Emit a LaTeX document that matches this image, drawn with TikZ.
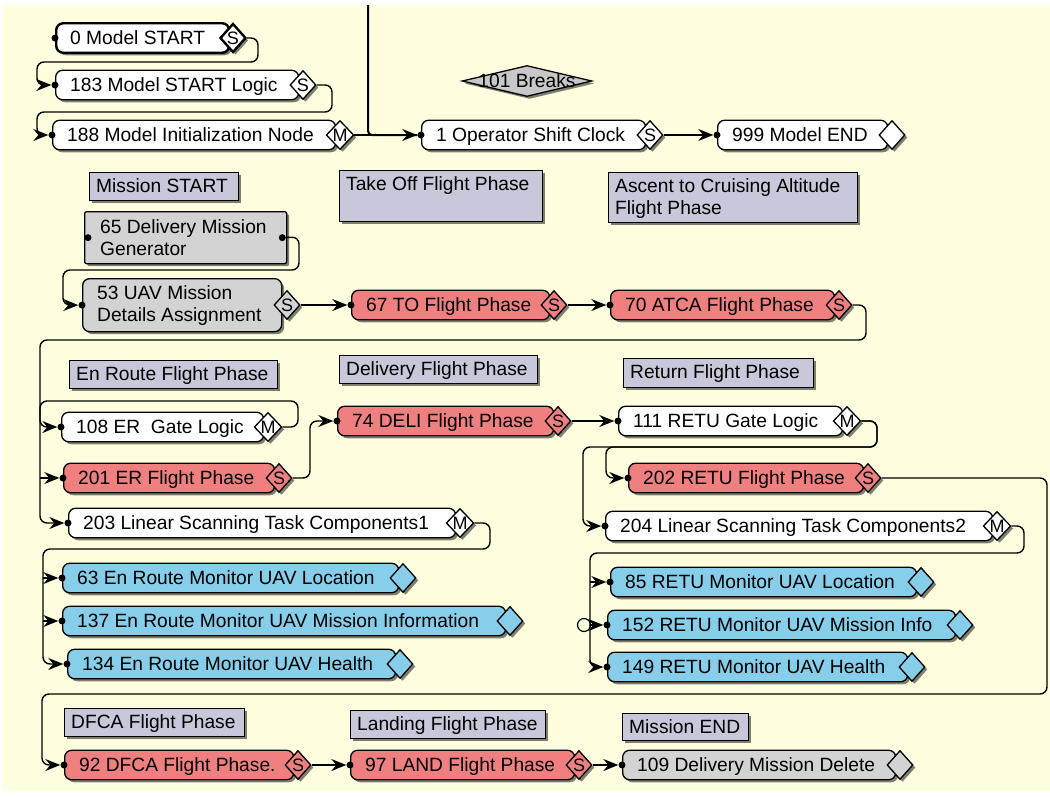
\documentclass[tikz,border=0pt]{standalone}
\usepackage{fontspec}
\setmainfont{Liberation Sans}
\usetikzlibrary{arrows.meta,shapes.geometric,shadows}
\definecolor{cream}{RGB}{255,255,224}
\definecolor{nred}{RGB}{240,128,128}
\definecolor{nblue}{RGB}{135,206,235}
\definecolor{ngray}{RGB}{211,211,211}
\definecolor{lav}{RGB}{200,200,218}
\definecolor{brkgray}{RGB}{200,200,200}
\tikzset{
 shad/.style={drop shadow={shadow xshift=2.5pt,shadow yshift=-2.5pt,fill=black,opacity=0.5}},
 fbox/.style={draw=black,line width=1.3pt,rounded corners=7pt,minimum height=29.5pt,inner sep=0pt,shad},
 ftext/.style={inner sep=0pt,font=\fontsize{19.2}{22}\selectfont,text height=13.6pt,text depth=0pt},
 ftexttwo/.style={inner sep=0pt,font=\fontsize{19.2}{21.5}\selectfont,align=left},
 fdia/.style={diamond,draw=black,line width=1.3pt,minimum width=26pt,minimum height=29pt,inner sep=0pt,font=\fontsize{18}{18}\selectfont,text height=12.6pt,text depth=0pt,shad},
 indot/.style={circle,fill=black,inner sep=0pt,minimum size=7pt},
 fwhite/.style={fill=white},
 fred/.style={fill=nred},
 fblue/.style={fill=nblue},
 fgray/.style={fill=ngray},
 lblbox/.style={draw=black,line width=1.3pt,fill=lav,inner sep=0pt,shad},
 lbltext/.style={inner sep=0pt,font=\fontsize{19.2}{21.5}\selectfont,align=left},
 conn/.style={draw=black,line width=1.4pt,rounded corners=7pt},
 arr/.style={-{Stealth[length=15pt,width=12pt,inset=5pt]}},
 brkdia/.style={diamond,draw=black,line width=1.3pt,fill=brkgray,minimum width=130pt,minimum height=31pt,inner sep=0pt,shad}
}
\newcommand\fnode[7]{%
  \pgfmathsetmacro\fnw{#3-5-(#2)}%
  \node[fbox,#5,minimum width=\fnw pt,anchor=west] (#1) at (#2,#4) {};
  \node[ftext,anchor=west] (#1t) at (#2+15,#4) {#6};
  \node[fdia,#5] (#1d) at (#3,#4) {#7};
  \node[indot] (#1i) at (#1.west) {};
}
\newcommand\lbl[6]{%
  \pgfmathsetmacro\lw{#4-(#2)}%
  \pgfmathsetmacro\lh{#5-(#3)}%
  \node[lblbox,minimum width=\lw pt,minimum height=\lh pt,anchor=north west] (#1) at (#2,#3) {};
  \node[lbltext,anchor=north west] (#1t) at (#2+7,#3+6.5) {#6};
}
\begin{document}
\begin{tikzpicture}[x=1pt,y=-1pt]
\useasboundingbox (0,0) rectangle (1050,796);
\fill[white] (0,0) rectangle (1050,796);
\fill[cream] (3,5) rectangle (1050,791);

% labels
\lbl{lMS}{89}{172}{238}{200}{Mission START}
\lbl{lTO}{339}{170}{542}{221}{Take Off Flight Phase}
\lbl{lAsc}{608}{172}{857}{222}{Ascent to Cruising Altitude\\Flight Phase}
\lbl{lER}{69}{360}{277}{388}{En Route Flight Phase}
\lbl{lDel}{339}{355}{537}{383}{Delivery Flight Phase}
\lbl{lRet}{623}{358}{813}{387}{Return Flight Phase}
\lbl{lDF}{64}{708}{244}{736}{DFCA Flight Phase}
\lbl{lLand}{350}{710}{545}{738}{Landing Flight Phase}
\lbl{lME}{622}{713}{748}{740}{Mission END}

% breaks
\node[brkdia] (brk) at (527,81) {};
\node[ftext] (brkt) at (brk) {101 Breaks};

% nodes
\fnode{n0}{55}{233}{38}{fwhite,line width=2.4pt}{0 Model START}{S}
\fnode{n183}{55}{303}{85}{fwhite}{183 Model START Logic}{S}
\fnode{n188}{52}{340}{135}{fwhite}{188 Model Initialization Node}{M}
\fnode{n1}{421}{650}{135}{fwhite}{1 Operator Shift Clock}{S}
\fnode{n999}{717}{892}{135}{fwhite}{999 Model END}{}

\node[fbox,fgray,rounded corners=2pt,minimum width=202pt,minimum height=52pt,anchor=north west] (n65) at (84,211) {};
\node[ftexttwo,anchor=north west] (n65t) at (100,219.5) {65 Delivery Mission\\Generator};
\node[indot] (n65i) at ([xshift=4pt]n65.west) {};
\node[indot] (n65o) at ([xshift=-5pt]n65.east) {};

\node[fbox,fgray,minimum width=199pt,minimum height=53pt,anchor=north west] (n53) at (82,278) {};
\node[ftexttwo,anchor=north west] (n53t) at (97,285.5) {53 UAV Mission\\Details Assignment};
\node[fdia,fgray] (n53d) at (287,305) {S};
\node[indot] (n53i) at (n53.west) {};

\fnode{n67}{351}{554}{305}{fred}{67 TO Flight Phase}{S}
\fnode{n70}{610}{839}{305}{fred}{70 ATCA Flight Phase}{S}
\fnode{n108}{61}{268}{427}{fwhite}{108 ER~~Gate Logic}{M}
\fnode{n201}{63}{279}{478}{fred}{201 ER Flight Phase}{S}
\fnode{n203}{68}{460}{523}{fwhite}{203 Linear Scanning Task Components1}{M}
\fnode{n63}{62}{403}{578}{fblue}{63 En Route Monitor UAV Location}{}
\fnode{n137}{62}{510}{621}{fblue}{137 En Route Monitor UAV Mission Information}{}
\fnode{n134}{67}{400}{664}{fblue}{134 En Route Monitor UAV Health}{}
\fnode{n74}{337}{558}{421}{fred}{74 DELI Flight Phase}{S}
\fnode{n111}{618}{847}{421}{fwhite}{111 RETU Gate Logic}{M}
\fnode{n202}{628}{868}{478}{fred}{202 RETU Flight Phase}{S}
\fnode{n204}{605}{997}{526}{fwhite}{204 Linear Scanning Task Components2}{M}
\fnode{n85}{610}{921}{582}{fblue}{85 RETU Monitor UAV Location}{}
\fnode{n152}{607}{960}{625}{fblue}{152 RETU Monitor UAV Mission Info}{}
\fnode{n149}{607}{912}{667}{fblue}{149 RETU Monitor UAV Health}{}
\fnode{n92}{64}{298}{765}{fred}{92 DFCA Flight Phase.}{S}
\fnode{n97}{350}{579}{765}{fred}{97 LAND Flight Phase}{S}
\fnode{n109}{622}{900}{765}{fgray}{109 Delivery Mission Delete}{}

% connectors
\draw[conn,arr] (n0d.east) -- (258,38) -- (258,62) -- (37,62) -- (37,85) -- (n183i);
\draw[conn,arr] (n183d.east) -- (332,85) -- (332,112) -- (37,112) -- (37,135) -- (n188i);
\coordinate (topin) at (368,5);
\draw[conn,line width=2pt,rounded corners=4pt] (topin) -- (368,135) -- (n1i);
\draw[conn,arr] (n188d.east) -- (n1i);
\draw[conn,arr] (n1d.east) -- (n999i);

\draw[conn,arr] (n65o) -- (299,237) -- (299,270) -- (63,270) -- (63,305) -- (n53i);
\draw[conn,arr] (n53d.east) -- (n67i);
\draw[conn,arr] (n67d.east) -- (n70i);

\draw[conn,arr] (n70d.east) -- (866,305) -- (866,340) -- (40,340) -- (40,523) -- (n203i);
\coordinate (b201) at (40,478);
\draw[conn,arr] (b201) -- (n201i);
\draw[conn,arr] (n108d.east) -- (298,427) -- (298,401) -- (40,401) -- (40,427) -- (n108i);
\draw[conn,arr] (n201d.east) -- (310,478) -- (310,421) -- (n74i);

\draw[conn,arr] (n203d.east) -- (490,523) -- (490,549) -- (43,549) -- (43,664) -- (n134i);
\coordinate (b63) at (43,578);
\coordinate (b137) at (43,621);
\draw[conn,arr] (b63) -- (n63i);
\draw[conn,arr] (b137) -- (n137i);

\draw[conn,arr] (n74d.east) -- (n111i);
\draw[conn,arr] (n111d.east) -- (877,421) -- (877,447) -- (606,447) -- (606,478) -- (n202i);
\draw[conn,arr] (n111d.east) -- (877,421) -- (877,447) -- (583,447) -- (583,526) -- (n204i);

\draw[conn,arr] (n202d.east) -- (1047,478) -- (1047,694) -- (42,694) -- (42,765) -- (n92i);

\draw[conn,arr] (n204d.east) -- (1024,526) -- (1024,553) -- (590,553) -- (590,667) -- (n149i);
\coordinate (b85) at (590,582);
\coordinate (b152) at (590,625);
\draw[conn,arr] (b85) -- (n85i);
\draw[conn,arr] (b152) -- (n152i);
\node[draw=black,circle,line width=1.2pt,minimum size=13pt,inner sep=0pt] (jmp) at (584,625) {};

\draw[conn,arr] (n92d.east) -- (n97i);
\draw[conn,arr] (n97d.east) -- (n109i);
\end{tikzpicture}
\end{document}
